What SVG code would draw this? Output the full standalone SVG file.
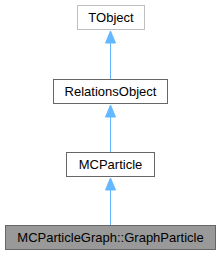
<svg xmlns="http://www.w3.org/2000/svg" width="221" height="256" viewBox="0 0 221 256">
<style>
.n rect{stroke-width:1}
.t{font-family:"Liberation Sans",Arial,sans-serif;font-size:13px;text-anchor:middle;fill:#000}
.e{stroke:#63b8ff;stroke-width:1;fill:none}
.h{fill:#63b8ff;stroke:#63b8ff}
</style>
<rect width="221" height="256" fill="#fff"/>
<g id="edges">
<path class="e" d="M110.5,79V42"/><polygon class="h" points="110.5,31 115.5,43 105.5,43"/>
<path class="e" d="M110.5,152V115"/><polygon class="h" points="110.5,105 115.5,117 105.5,117"/>
<path class="e" d="M110.5,225V188"/><polygon class="h" points="110.5,178 115.5,190 105.5,190"/>
</g>
<g id="TObject" class="n"><rect x="77.5" y="5.5" width="67" height="24" fill="#fff" stroke="#bfbfbf"/><text class="t" x="111" y="22">TObject</text></g>
<g id="RelationsObject" class="n"><rect x="53.5" y="79.5" width="114" height="24" fill="#fff" stroke="#666"/><text class="t" x="110.5" y="96">RelationsObject</text></g>
<g id="MCParticle" class="n"><rect x="66.5" y="152.5" width="88" height="24" fill="#fff" stroke="#666"/><text class="t" x="110.5" y="169">MCParticle</text></g>
<g id="GraphParticle" class="n"><rect x="5.5" y="225.5" width="210" height="24" fill="#999" stroke="#666"/><text class="t" x="110.5" y="242">MCParticleGraph::GraphParticle</text></g>
</svg>
